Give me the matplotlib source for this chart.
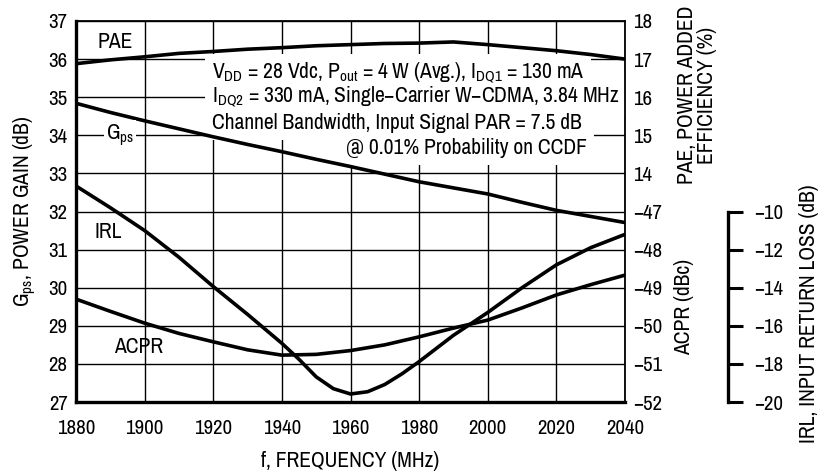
import matplotlib
matplotlib.use('Agg')
import matplotlib.pyplot as plt
import numpy as np

plt.rcParams['font.family'] = ['Archivo Narrow', 'DejaVu Sans']
plt.rcParams['mathtext.fontset'] = 'custom'
plt.rcParams['mathtext.rm'] = 'Archivo Narrow'
plt.rcParams['mathtext.it'] = 'Archivo Narrow'

# ---- data ----
freq = [1880, 1890, 1900, 1910, 1920, 1930, 1940, 1950, 1960,
        1970, 1980, 1990, 2000, 2010, 2020, 2030, 2040]
gps = [34.84, 34.60, 34.38, 34.17, 33.96, 33.76, 33.57, 33.37, 33.18,
       32.98, 32.78, 32.62, 32.46, 32.24, 32.03, 31.87, 31.71]
pae = [16.88, 16.98, 17.06, 17.15, 17.20, 17.26, 17.30, 17.35, 17.38,
       17.41, 17.42, 17.45, 17.38, 17.30, 17.22, 17.12, 17.00]
acpr = [-49.30, -49.62, -49.93, -50.20, -50.42, -50.63, -50.77, -50.75, -50.65,
        -50.50, -50.29, -50.06, -49.85, -49.53, -49.19, -48.92, -48.67]
irl_freq = [1880, 1890, 1900, 1910, 1920, 1930, 1940, 1945, 1950, 1955, 1960,
            1965, 1970, 1975, 1980, 1990, 2000, 2010, 2020, 2030, 2040]
irl = [-8.66, -9.8, -11.0, -12.4, -13.94, -15.4, -16.92, -17.76, -18.68, -19.3,
       -19.58, -19.46, -19.08, -18.52, -17.88, -16.5, -15.3, -14.0, -12.8,
       -11.9, -11.2]

gps_ticks = list(range(27, 38))
pae_ticks = [14, 15, 16, 17, 18]
acpr_ticks = [-52, -51, -50, -49, -48, -47]
irl_ticks = [-20, -18, -16, -14, -12, -10]
freq_ticks = list(range(1880, 2041, 20))

FS = 15      # tick labels
TS = 15.5    # other text
LW = 2.6

fig = plt.figure(figsize=(8.19, 4.75), dpi=100)
ax = fig.add_axes([76/819, 1-402/475, 549/819, 381/475])

ax.set_xlim(1880, 2040)
ax.set_ylim(27, 37)
ax.set_xticks(freq_ticks)
ax.set_yticks(gps_ticks)
ax.grid(True, color='black', linewidth=1.0)
ax.set_axisbelow(True)
ax.tick_params(length=0, labelsize=FS)
ax.tick_params(axis='x', pad=12)
ax.tick_params(axis='y', pad=6)
for s in ['left', 'bottom']:
    ax.spines[s].set_linewidth(2.4)
for s in ['top', 'right']:
    ax.spines[s].set_linewidth(1.3)

ax.plot(freq, gps, color='black', linewidth=LW, zorder=5)

# PAE on right, upper part
ax_pae = ax.twinx()
ax_pae.set_ylim(8, 18)
ax_pae.set_yticks(pae_ticks)
ax_pae.tick_params(length=0, labelsize=FS, pad=6)
ax_pae.plot(freq, pae, color='black', linewidth=LW, zorder=5)

# ACPR on right, lower part
ax_acpr = ax.twinx()
ax_acpr.set_ylim(-52, -42)
ax_acpr.set_yticks(acpr_ticks)
ax_acpr.tick_params(length=0, labelsize=FS, pad=6)
ax_acpr.plot(freq, acpr, color='black', linewidth=LW, zorder=5)

# IRL with its own detached scale
ax_irl = ax.twinx()
ax_irl.set_ylim(-20, 0)
ax_irl.set_yticks(irl_ticks)
ax_irl.spines['right'].set_position(('axes', (728-76)/549))
ax_irl.spines['right'].set_bounds(-20, -10)
ax_irl.spines['right'].set_linewidth(2.4)
ax_irl.tick_params(axis='y', direction='out', length=11, width=2.2,
                   labelsize=FS, pad=8)
ax_irl.plot(irl_freq, irl, color='black', linewidth=LW, zorder=5)

for a in [ax_pae, ax_acpr, ax_irl]:
    for s in ['top', 'bottom', 'left']:
        a.spines[s].set_visible(False)
for a in [ax_pae, ax_acpr]:
    a.spines['right'].set_visible(False)

# curve labels
box = dict(facecolor='white', edgecolor='none', pad=1.5)
ax.text(1891.4, 36.45, 'PAE', fontsize=TS, ha='center', va='center')
ax.text(1892.8, 34.0, r'$\mathregular{G_{ps}}$', fontsize=TS, ha='center',
        va='center', bbox=box, zorder=6)
ax.text(1889.3, 31.46, 'IRL', fontsize=TS, ha='center', va='center')
ax.text(1898.1, 28.44, 'ACPR', fontsize=TS, ha='center', va='center')

# conditions note: white backing first (under the curves), then the text
nbox = dict(facecolor='white', edgecolor='none', pad=5)
note = [
    (1919.5, 35.64, r'$\mathregular{V_{DD}}$ = 28 Vdc, $\mathregular{P_{out}}$ = 4 W (Avg.), $\mathregular{I_{DQ1}}$ = 130 mA', 'left'),
    (1919.5, 35.00, r'$\mathregular{I_{DQ2}}$ = 330 mA, Single' + '\u2212' + 'Carrier W' + '\u2212' + 'CDMA, 3.84 MHz', 'left'),
    (1919.5, 34.32, 'Channel Bandwidth, Input Signal PAR = 7.5 dB', 'left'),
    (2029.0, 33.67, '@ 0.01% Probability on CCDF', 'right'),
]
for x, y, s, ha in note:
    ax.text(x, y, s, fontsize=TS, ha=ha, va='center', color='white',
            bbox=nbox, zorder=2)
for x, y, s, ha in note:
    ax.text(x, y, s, fontsize=TS, ha=ha, va='center', zorder=7)

# axis titles
fig.text(25/819, 1-211/475, r'$\mathregular{G_{ps}}$, POWER GAIN (dB)',
         rotation=90, ha='center', va='center', fontsize=TS)
fig.text(350/819, 1-461/475, 'f, FREQUENCY (MHz)', ha='center', va='center',
         fontsize=TS)
fig.text(697/819, 1-95/475, 'PAE, POWER ADDED\nEFFICIENCY (%)', rotation=90,
         ha='center', va='center', fontsize=TS, linespacing=0.95)
fig.text(684/819, 1-307/475, 'ACPR (dBc)', rotation=90, ha='center',
         va='center', fontsize=TS)
fig.text(809/819, 1-314/475, 'IRL, INPUT RETURN LOSS (dB)', rotation=90,
         ha='center', va='center', fontsize=TS)

fig.savefig('out.png', dpi=100, facecolor='white')
